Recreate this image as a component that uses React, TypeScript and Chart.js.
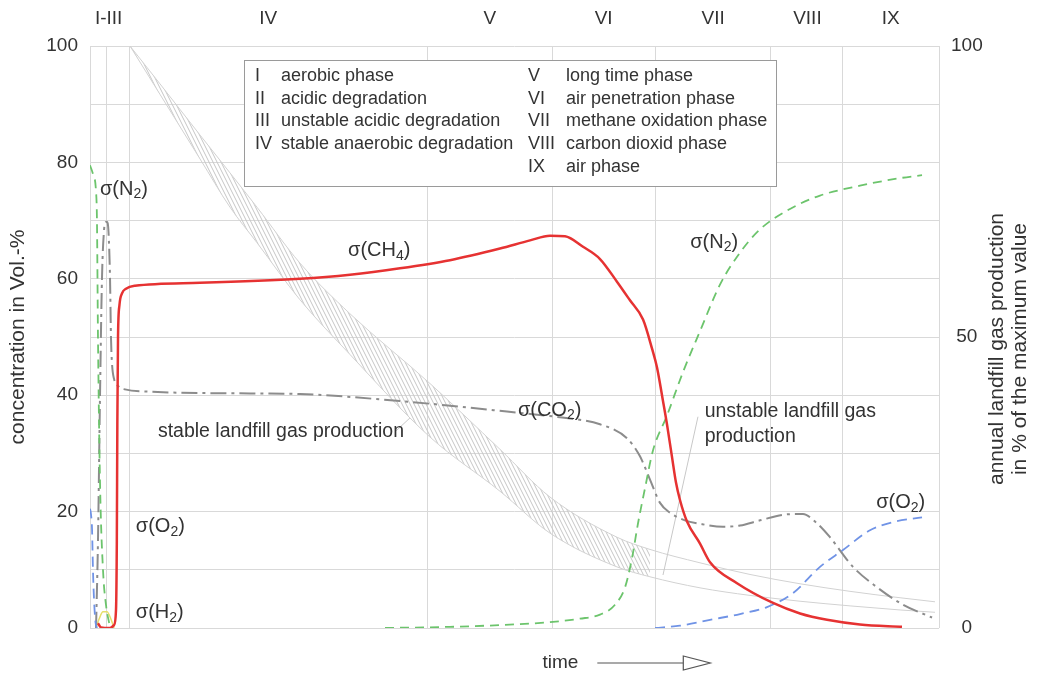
import React, { useEffect, useRef } from 'react';
import { Chart, registerables } from 'chart.js';

Chart.register(...registerables);

const FONT = '"Liberation Sans", Arial, Helvetica, sans-serif';
const TEXT = '#333333';

// phase boundaries (time units, 0..100) and labels
const phaseBounds = [0, 2.0, 4.71, 39.81, 54.42, 66.55, 80.21, 88.69, 100];
const phaseLabels = ['I-III', 'IV', 'V', 'VI', 'VII', 'VIII', 'IX'];
const phaseLabelPos = [2.2, 21.0, 47.1, 60.5, 73.4, 84.5, 94.3];

const leftTickStep = 10;
const leftLabelEvery = 20;
const rightTicks = [0, 50, 100];

const legendNumerals = ['I', 'II', 'III', 'IV', 'V', 'VI', 'VII', 'VIII', 'IX'];
const legendTexts = [
  'aerobic phase',
  'acidic degradation',
  'unstable acidic degradation',
  'stable anaerobic degradation',
  'long time phase',
  'air penetration phase',
  'methane oxidation phase',
  'carbon dioxid phase',
  'air phase',
];

// CH4
const ch4X = [0.94, 1.30, 2.36, 2.83, 3.06, 3.16, 3.22, 3.30, 3.47, 3.77, 4.24, 5.30, 12.96, 24.73, 30.62, 36.51, 42.40, 48.29, 51.83, 54.18, 55.95, 58.07, 60.07, 62.07, 63.60, 65.14, 66.20, 66.78, 67.49, 67.96, 68.55, 69.02, 69.49, 70.32, 71.85, 73.03, 76.21, 80.45, 83.63, 86.81, 90.69, 95.64];
const ch4Y = [0.8, 0.1, 0, 0.5, 3, 15, 35, 50, 55.5, 57.5, 58.3, 58.8, 59.3, 60.0, 60.7, 61.8, 63.2, 65.2, 66.6, 67.4, 67.3, 65.5, 63.4, 59.5, 56.3, 53.0, 48.0, 44.8, 39.0, 35.0, 29.4, 25.0, 22.0, 18.3, 14.5, 11.3, 7.7, 4.3, 2.5, 1.4, 0.6, 0.2];

// CO2
const co2X = [0.71, 0.94, 1.18, 1.41, 1.65, 1.83, 2.0, 2.18, 2.36, 2.47, 2.59, 2.83, 3.30, 4.12, 7.07, 18.85, 24.73, 36.51, 42.40, 50.29, 55.36, 60.07, 63.25, 64.78, 65.96, 67.14, 68.32, 70.08, 71.85, 74.56, 76.56, 78.92, 81.86, 83.98, 85.39, 87.16, 89.87, 92.70, 95.76, 99.18];
const co2Y = [0, 15, 40, 60, 68.3, 69.7, 69.8, 68.0, 60.0, 50.0, 45.5, 42.8, 41.6, 41.0, 40.6, 40.3, 40.2, 39.0, 38.2, 37.0, 36.2, 35.0, 32.6, 29.5, 25.5, 21.5, 19.8, 18.5, 17.9, 17.4, 17.6, 18.5, 19.5, 19.6, 18.3, 15.6, 10.5, 7.0, 4.0, 1.8];

// N2 (early and late)
const n2EarlyX = [0, 0.35, 0.71, 0.82, 0.94, 1.18, 1.53, 1.88, 2.24, 2.47];
const n2EarlyY = [79.5, 78, 75, 70, 50, 25, 10, 4, 1, 0];
const n2LateX = [34.75, 42.40, 48.29, 54.18, 57.71, 60.07, 61.84, 63.02, 63.84, 64.55, 65.37, 66.31, 67.96, 69.85, 71.85, 74.20, 76.56, 78.92, 82.45, 85.98, 90.69, 95.41, 98.0];
const n2LateY = [0, 0.2, 0.5, 1.0, 1.6, 2.3, 4, 7, 12, 18, 24, 30.5, 36.5, 44, 51, 59, 64.5, 68.5, 72, 74.3, 76, 77.3, 77.8];

// O2 (early and late)
const o2EarlyX = [0, 0.12, 0.24, 0.35, 0.47, 0.65, 0.82];
const o2EarlyY = [20.5, 19.5, 17, 10, 5, 1, 0];
const o2LateX = [66.55, 69.49, 73.03, 76.56, 79.74, 82.80, 85.98, 88.69, 91.87, 94.58, 98.0];
const o2LateY = [0, 0.4, 1.4, 2.4, 3.6, 6, 10.5, 13.4, 16.8, 18.2, 19];

// H2
const h2X = [0.71, 1.06, 1.53, 2.0, 2.47, 2.83];
const h2Y = [0, 1.5, 2.8, 2.8, 1.5, 0];

// annual landfill gas production band (right axis, % of maximum)
const bandX = [4.71, 8.24, 12.96, 16.49, 19.67, 24.73, 30.62, 40.05, 48.29, 54.18, 62.07, 65.96, 71.85, 77.74, 83.63, 89.52, 95.41, 99.53];
const bandUpper = [100, 93.5, 84.7, 78.2, 72.3, 62.7, 54.0, 42.0, 30.7, 22.5, 15.6, 13.5, 11.2, 9.2, 7.6, 6.3, 5.2, 4.5];
const bandLower = [100, 91.7, 80.6, 72.3, 66.2, 56.4, 47.0, 32.8, 23.5, 16.3, 10.5, 8.8, 6.9, 5.6, 4.6, 3.8, 3.1, 2.7];
const hatchEnd = 65.96;

// leader lines for the two production notes
const leaderStableX = [35.92, 37.69];
const leaderStableY = [33.7, 36.1];
const leaderUnstableX = [67.49, 71.61];
const leaderUnstableY = [9.1, 36.3];

type Pt = { x: number; y: number | null };
const pts = (xs: number[], ys: number[]): Pt[] => xs.map((x, i) => ({ x, y: ys[i] }));
const gapJoin = (a: Pt[], b: Pt[]): Pt[] => [...a, { x: (a[a.length - 1].x + b[0].x) / 2, y: null }, ...b];

type Part = [string, boolean];
const labels: { parts: Part[]; x: number; y: number }[] = [
  { parts: [['σ(N', false], ['2', true], [')', false]], x: 1.18, y: 75.4 },
  { parts: [['σ(CH', false], ['4', true], [')', false]], x: 30.4, y: 64.8 },
  { parts: [['σ(CO', false], ['2', true], [')', false]], x: 50.4, y: 37.4 },
  { parts: [['σ(N', false], ['2', true], [')', false]], x: 70.7, y: 66.3 },
  { parts: [['σ(O', false], ['2', true], [')', false]], x: 5.4, y: 17.4 },
  { parts: [['σ(H', false], ['2', true], [')', false]], x: 5.4, y: 2.6 },
  { parts: [['σ(O', false], ['2', true], [')', false]], x: 92.6, y: 21.5 },
];
const notes: { text: string; x: number; y: number }[] = [
  { text: 'stable landfill gas production', x: 8.0, y: 33.7 },
  { text: 'unstable landfill gas', x: 72.4, y: 37.1 },
  { text: 'production', x: 72.4, y: 32.8 },
];

const overlayPlugin = {
  id: 'overlay',
  afterDraw(chart: any) {
    const { ctx, chartArea, scales } = chart;
    const X = (v: number) => scales.x.getPixelForValue(v);
    const Y = (v: number) => scales.y.getPixelForValue(v);
    ctx.save();
    ctx.fillStyle = TEXT;
    ctx.textBaseline = 'middle';

    // phase labels
    ctx.font = `19px ${FONT}`;
    ctx.textAlign = 'center';
    phaseLabels.forEach((l, i) => ctx.fillText(l, X(phaseLabelPos[i]), chartArea.top - 27));

    // legend box
    const bx = chartArea.left + 154;
    const by = chartArea.top + 14;
    const bw = 532;
    const bh = 126;
    ctx.fillStyle = '#ffffff';
    ctx.fillRect(bx, by, bw, bh);
    ctx.strokeStyle = '#9a9a9a';
    ctx.lineWidth = 1;
    ctx.strokeRect(bx + 0.5, by + 0.5, bw, bh);
    ctx.fillStyle = TEXT;
    ctx.font = `18px ${FONT}`;
    ctx.textAlign = 'left';
    legendNumerals.forEach((n, i) => {
      const col = i < 4 ? 0 : 1;
      const row = i < 4 ? i : i - 4;
      const yy = by + 16 + row * 22.7;
      ctx.fillText(n, bx + (col ? 284 : 11), yy);
      ctx.fillText(legendTexts[i], bx + (col ? 322 : 37), yy);
    });

    // curve labels with subscripts
    labels.forEach((lb) => {
      let cx = X(lb.x);
      const cy = Y(lb.y);
      lb.parts.forEach(([t, sub]) => {
        ctx.font = sub ? `14px ${FONT}` : `20px ${FONT}`;
        ctx.fillText(t, cx, sub ? cy + 5 : cy);
        cx += ctx.measureText(t).width;
      });
    });

    ctx.font = `19.5px ${FONT}`;
    notes.forEach((n) => ctx.fillText(n.text, X(n.x), Y(n.y)));

    // left title
    ctx.save();
    ctx.translate(18, (chartArea.top + chartArea.bottom) / 2);
    ctx.rotate(-Math.PI / 2);
    ctx.textAlign = 'center';
    ctx.font = `21px ${FONT}`;
    ctx.fillText('concentration in Vol.-%', 0, 0);
    ctx.restore();

    // right title
    ctx.save();
    ctx.translate(chartArea.right + 58, (chartArea.top + chartArea.bottom) / 2 + 12);
    ctx.rotate(-Math.PI / 2);
    ctx.textAlign = 'center';
    ctx.font = `21px ${FONT}`;
    ctx.fillText('annual landfill gas production', 0, 0);
    ctx.fillText('in % of the maximum value', 0, 23);
    ctx.restore();

    // time arrow
    ctx.font = `19px ${FONT}`;
    ctx.textAlign = 'center';
    const tx = X(55.4);
    const ty = chartArea.bottom + 35;
    ctx.fillText('time', tx, ty);
    const tw = ctx.measureText('time').width;
    const s = tx + tw / 2 + 19;
    ctx.strokeStyle = '#555';
    ctx.lineWidth = 1.2;
    ctx.beginPath();
    ctx.moveTo(s, ty);
    ctx.lineTo(s + 86, ty);
    ctx.stroke();
    ctx.beginPath();
    ctx.moveTo(s + 86, ty - 7);
    ctx.lineTo(s + 113, ty);
    ctx.lineTo(s + 86, ty + 7);
    ctx.closePath();
    ctx.fillStyle = '#fff';
    ctx.fill();
    ctx.stroke();
    ctx.restore();
  },
};

export default function App() {
  const ref = useRef<HTMLCanvasElement>(null);
  useEffect(() => {
    document.body.style.margin = '0';
    const canvas = ref.current!;
    const ctx = canvas.getContext('2d')!;
    const pc = document.createElement('canvas');
    pc.width = 4;
    pc.height = 8;
    const p = pc.getContext('2d')!;
    p.strokeStyle = '#c6c6c6';
    p.lineWidth = 1;
    p.beginPath();
    p.moveTo(0, 0);
    p.lineTo(4, 8);
    p.moveTo(-4, 0);
    p.lineTo(0, 8);
    p.moveTo(4, 0);
    p.lineTo(8, 8);
    p.stroke();
    const pattern = ctx.createPattern(pc, 'repeat');

    const hatchIdx = bandX.filter((v) => v <= hatchEnd + 0.001).length;
    const base = { pointRadius: 0, fill: false, cubicInterpolationMode: 'monotone' as const, spanGaps: false };

    const chart = new Chart(canvas, {
      type: 'line',
      data: {
        datasets: [
          { ...base, label: 'CH4', data: pts(ch4X, ch4Y), borderColor: '#e63232', borderWidth: 2.5 },
          { ...base, label: 'N2', data: gapJoin(pts(n2EarlyX, n2EarlyY), pts(n2LateX, n2LateY)), borderColor: '#6cc46c', borderWidth: 1.8, borderDash: [9, 6] },
          { ...base, label: 'O2', data: gapJoin(pts(o2EarlyX, o2EarlyY), pts(o2LateX, o2LateY)), borderColor: '#7093e6', borderWidth: 1.8, borderDash: [10, 6] },
          { ...base, label: 'CO2', data: pts(co2X, co2Y), borderColor: '#8c8c8c', borderWidth: 2, borderDash: [16, 5, 3, 5] },
          { ...base, label: 'H2', data: pts(h2X, h2Y), borderColor: '#e6de6a', borderWidth: 1.5 },
          { ...base, label: 'leader1', data: pts(leaderStableX, leaderStableY), borderColor: '#c8c8c8', borderWidth: 1, cubicInterpolationMode: 'default', tension: 0 },
          { ...base, label: 'leader2', data: pts(leaderUnstableX, leaderUnstableY), borderColor: '#c8c8c8', borderWidth: 1, cubicInterpolationMode: 'default', tension: 0 },
          { ...base, label: 'bandUpperLine', data: pts(bandX, bandUpper), borderColor: '#d2d2d2', borderWidth: 1, yAxisID: 'y2' },
          { ...base, label: 'bandLowerLine', data: pts(bandX, bandLower), borderColor: '#d2d2d2', borderWidth: 1, yAxisID: 'y2' },
          { ...base, label: 'hatchUpper', data: pts(bandX.slice(0, hatchIdx), bandUpper.slice(0, hatchIdx)), borderWidth: 0, borderColor: 'rgba(0,0,0,0)', backgroundColor: pattern as any, fill: '+1', yAxisID: 'y2' },
          { ...base, label: 'hatchLower', data: pts(bandX.slice(0, hatchIdx), bandLower.slice(0, hatchIdx)), borderWidth: 0, borderColor: 'rgba(0,0,0,0)', yAxisID: 'y2' },
        ],
      },
      options: {
        animation: false,
        responsive: false,
        maintainAspectRatio: false,
        layout: { padding: { top: 46, left: 0, right: 0, bottom: 0 } },
        plugins: { legend: { display: false }, tooltip: { enabled: false } },
        scales: {
          x: {
            type: 'linear',
            min: 0,
            max: 100,
            afterBuildTicks: (s: any) => {
              s.ticks = phaseBounds.map((v) => ({ value: v }));
            },
            ticks: { display: false },
            grid: { color: '#d9d9d9', drawTicks: false },
            border: { display: false },
            afterFit: (s: any) => {
              s.height = 45;
            },
          },
          y: {
            min: 0,
            max: 100,
            ticks: {
              stepSize: leftTickStep,
              autoSkip: false,
              padding: 12,
              color: TEXT,
              font: { size: 19, family: FONT },
              callback: (v: any) => (Number(v) % leftLabelEvery === 0 ? String(v) : ''),
            },
            grid: { color: '#d9d9d9', drawTicks: false },
            border: { display: false },
            afterFit: (s: any) => {
              s.width = 90;
            },
          },
          y2: {
            position: 'right',
            min: 0,
            max: 100,
            afterBuildTicks: (s: any) => {
              s.ticks = rightTicks.map((v) => ({ value: v }));
            },
            ticks: {
              padding: 12,
              crossAlign: 'center',
              color: TEXT,
              font: { size: 19, family: FONT },
            },
            grid: { display: false, drawTicks: false },
            border: { display: false },
            afterFit: (s: any) => {
              s.width = 98;
            },
          },
        },
      },
      plugins: [overlayPlugin],
    } as any);
    return () => chart.destroy();
  }, []);
  return (
    <div style={{ width: 1037, height: 673, position: 'relative', background: '#fff' }}>
      <canvas ref={ref} width={1037} height={673} style={{ display: 'block' }} />
    </div>
  );
}
